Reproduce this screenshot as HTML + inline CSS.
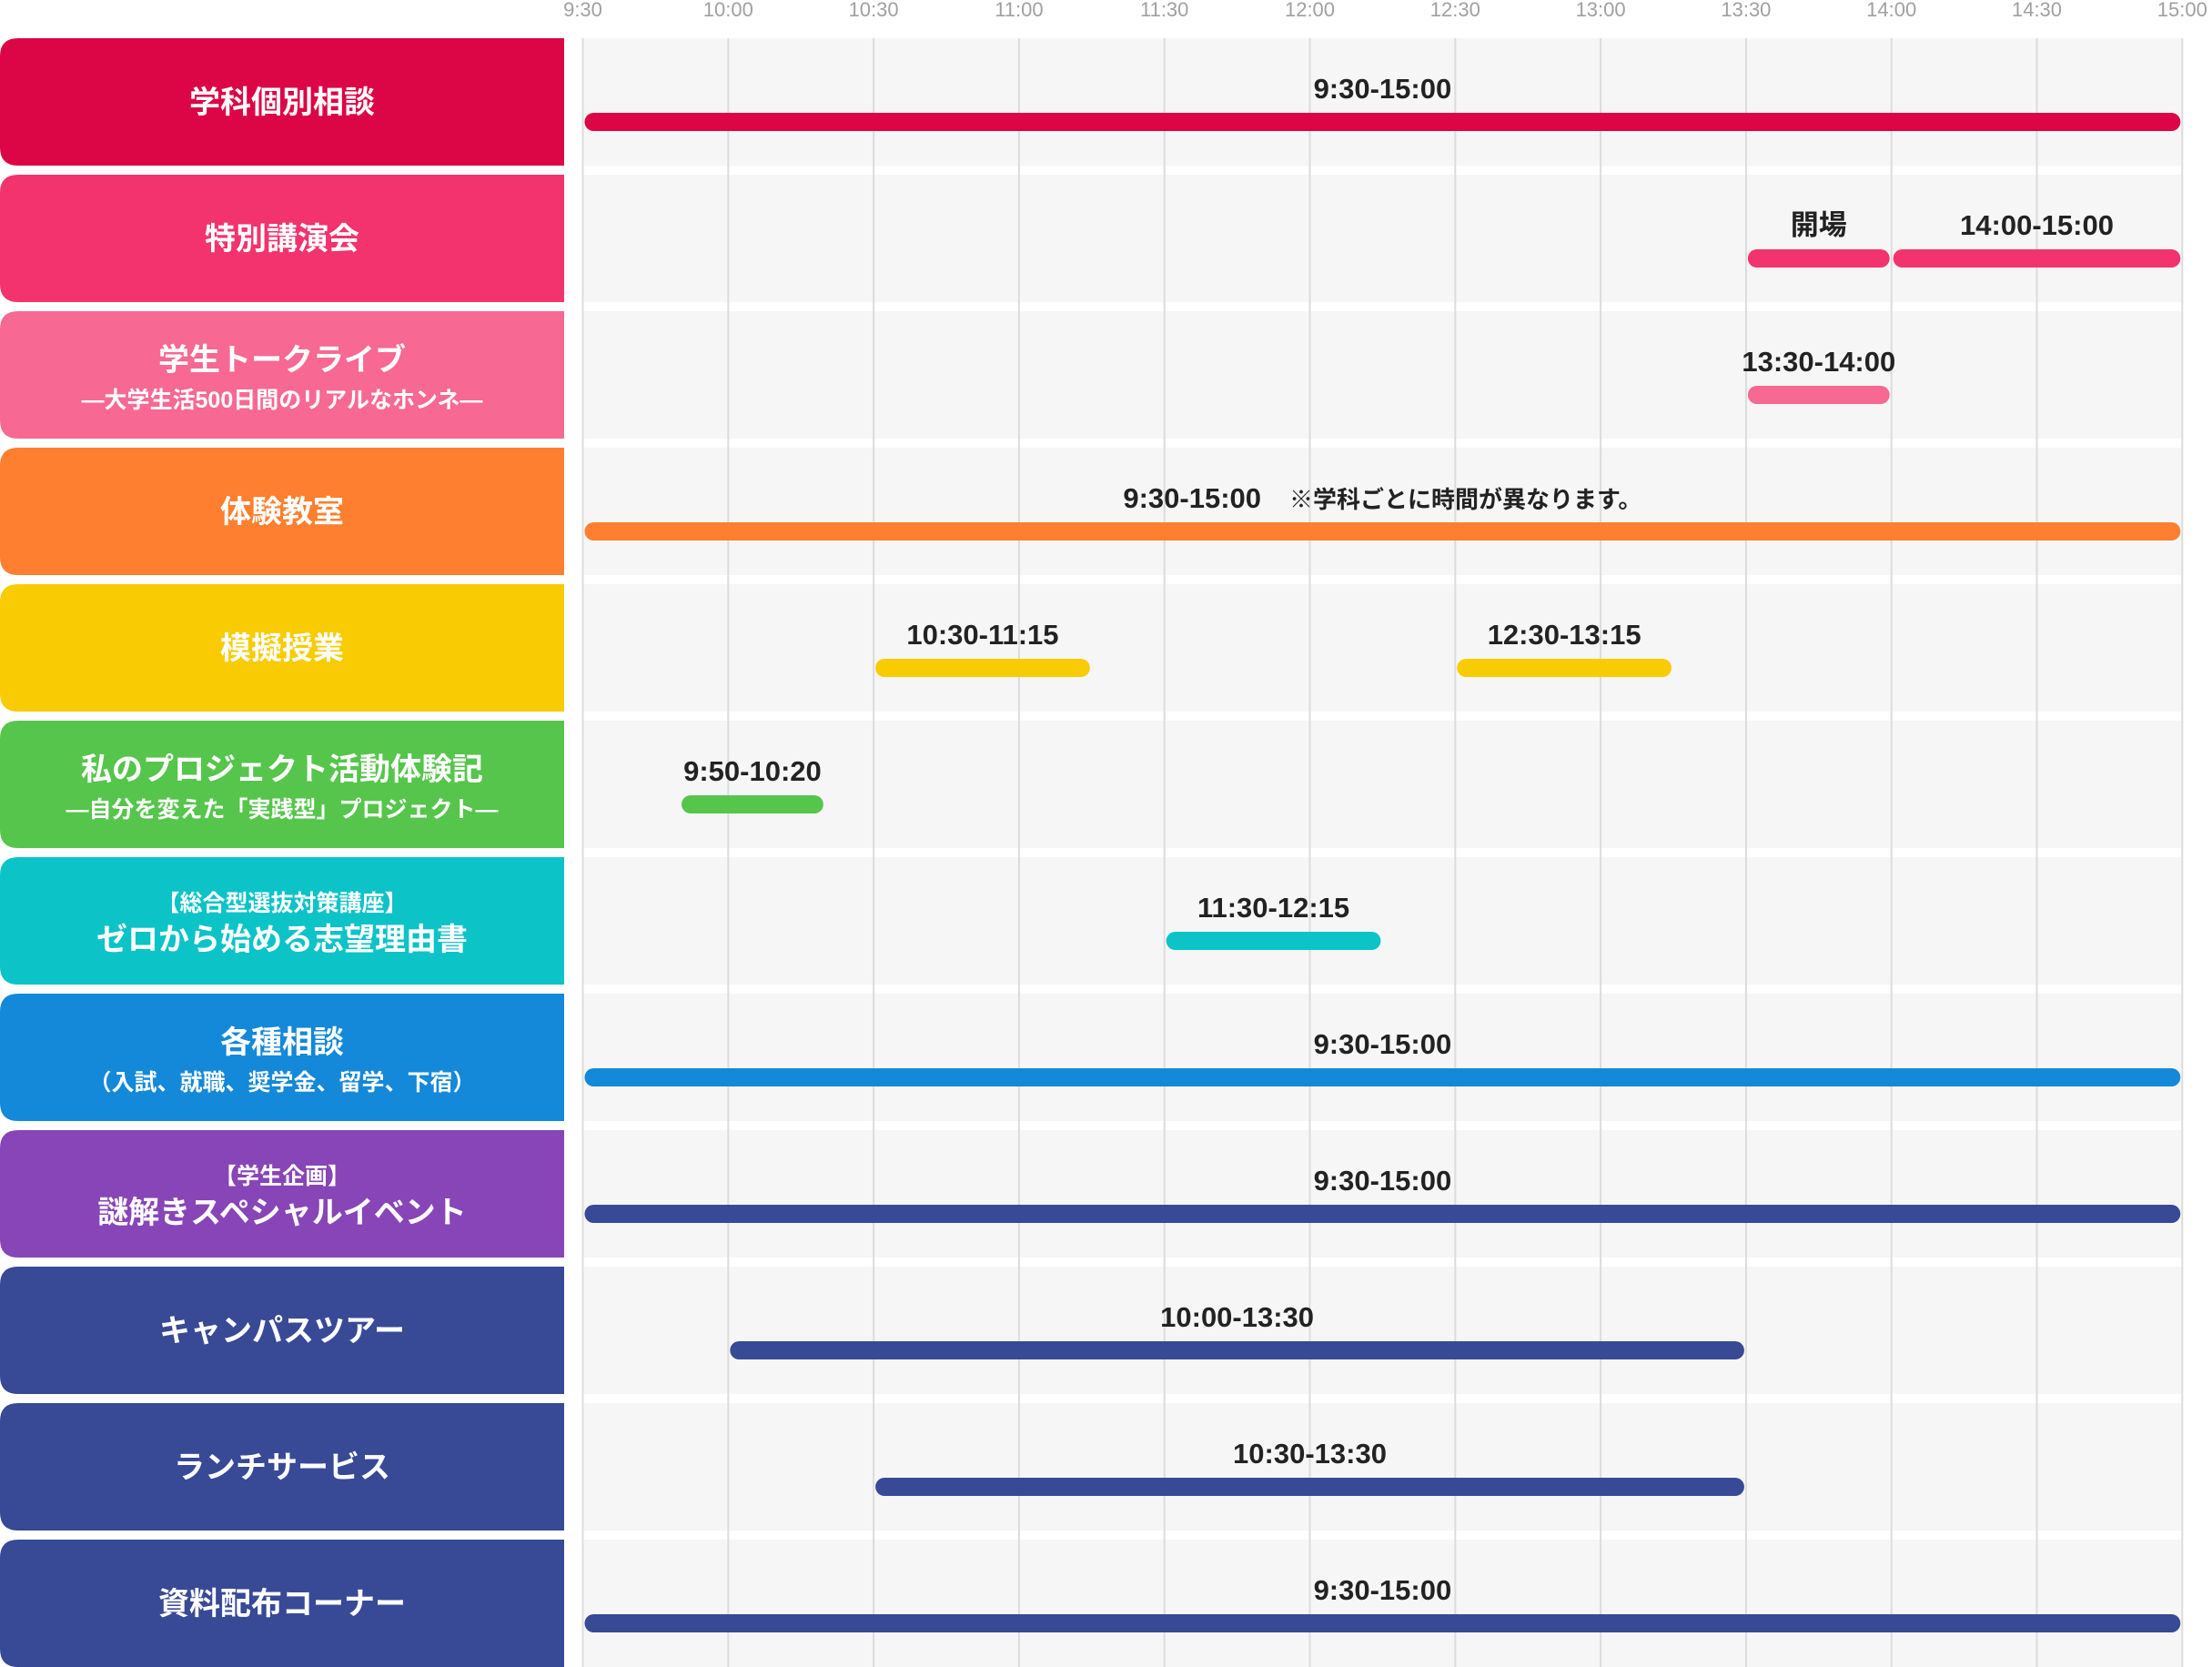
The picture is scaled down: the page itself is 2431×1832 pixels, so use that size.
<!DOCTYPE html>
<html><head><meta charset="utf-8">
<style>
html,body{margin:0;padding:0;background:#fff;}
svg{display:block;}
text{font-family:"Liberation Sans","Noto Sans CJK JP",sans-serif;}
</style></head>
<body>
<svg id="chart" width="2431" height="1832" viewBox="0 0 2431 1832" xmlns="http://www.w3.org/2000/svg"></svg>
<script>
const tickLabels = ["9:30","10:00","10:30","11:00","11:30","12:00","12:30","13:00","13:30","14:00","14:30","15:00"];
const rowTitles = ["学科個別相談","特別講演会","学生トークライブ","体験教室","模擬授業","私のプロジェクト活動体験記","ゼロから始める志望理由書","各種相談","謎解きスペシャルイベント","キャンパスツアー","ランチサービス","資料配布コーナー"];
const rowSubs = ["","","―大学生活500日間のリアルなホンネ―","","","―自分を変えた「実践型」プロジェクト―","","（入試、就職、奨学金、留学、下宿）","","","",""];
const rowPre = ["","","","","","","【総合型選抜対策講座】","","【学生企画】","","",""];
const rowColors = ["#dc0545","#f3336e","#f76893","#fe7f2f","#f8cb02","#56c54c","#0cc3c8","#1488d9","#8845b7","#384996","#384996","#384996"];
const barColors = ["#dc0545","#f3336e","#f76893","#fe7f2f","#f8cb02","#56c54c","#0cc3c8","#1488d9","#384996","#384996","#384996","#384996"];
// bars: [row, startMin, endMin, label]
const barRows   = [0,1,1,2,3,4,4,5,6,7,8,9,10,11];
const barStarts = ["9:30","13:30","14:00","13:30","9:30","10:30","12:30","9:50","11:30","9:30","9:30","10:00","10:30","9:30"];
const barEnds   = ["15:00","14:00","15:00","14:00","15:00","11:15","13:15","10:20","12:15","15:00","15:00","13:30","13:30","15:00"];
const barLabels = ["9:30-15:00","開場","14:00-15:00","13:30-14:00","9:30-15:00　※学科ごとに時間が異なります。","10:30-11:15","12:30-13:15","9:50-10:20","11:30-12:15","9:30-15:00","9:30-15:00","10:00-13:30","10:30-13:30","9:30-15:00"];

const svg = document.getElementById('chart');
const NS = "http://www.w3.org/2000/svg";
const X0 = 640.5, PX30 = 159.8, ROW0 = 42, PITCH = 150, RH = 140;
function mins(t){const p=t.split(':');return (+p[0])*60+(+p[1]);}
function xScale(t){return X0 + (mins(t)-570)/30*PX30;}
function yRow(i){return ROW0 + i*PITCH;}
function el(tag, attrs){const e=document.createElementNS(NS,tag);for(const k in attrs)e.setAttribute(k,attrs[k]);svg.appendChild(e);return e;}

// row backgrounds
rowTitles.forEach((t,i)=>{
  const bg = el('rect',{x:X0,y:yRow(i),width:xScale("15:00")-X0,height:RH,fill:'#f6f6f6'});
  
  
});
// gridlines + ticks
tickLabels.forEach((t,i)=>{
  const x = xScale(t);
  const g = el('line',{x1:x,x2:x,y1:ROW0,y2:1832,stroke:'#dcdcdc','stroke-width':2});
  
  
  const tx = el('text',{x:x,y:18,'text-anchor':'middle','font-size':22,fill:'#a0a0a0'});
  tx.textContent = t;
  
  
});
// row labels
rowTitles.forEach((t,i)=>{
  const y = yRow(i);
  const r = el('path',{d:`M620 ${y} H20 Q0 ${y} 0 ${y+20} V${y+RH-20} Q0 ${y+RH} 20 ${y+RH} H620 Z`,fill:rowColors[i]});
  
  
  const cx = 310;
  let mainY = y+RH/2+12;
  if (rowSubs[i]) mainY = y+65;
  if (rowPre[i]) mainY = y+102;
  if (rowPre[i]) {
    const p = el('text',{x:cx,y:y+59,'text-anchor':'middle','font-size':25,'font-weight':'bold',fill:'#fff'});
    p.textContent = rowPre[i];
    
    
  }
  const m = el('text',{x:cx,y:mainY,'text-anchor':'middle','font-size':34,'font-weight':'bold',fill:'#fff'});
  m.textContent = t;
  
  
  if (rowSubs[i]) {
    const s = el('text',{x:cx,y:y+106,'text-anchor':'middle','font-size':25,'font-weight':'bold',fill:'#fff'});
    s.textContent = rowSubs[i];
    
    
  }
});
// bars
barRows.forEach((r,i)=>{
  const x1 = xScale(barStarts[i])+2, x2 = xScale(barEnds[i])-2;
  const y = yRow(r)+82;
  const b = el('rect',{x:x1,y:y,width:x2-x1,height:20,rx:10,ry:10,fill:barColors[r]});
  
  
  const l = el('text',{x:(x1+x2)/2,y:yRow(r)+66,'text-anchor':'middle','font-size':31,'font-weight':'bold',fill:'#222'});
  const parts = barLabels[i].split('　');
  if (parts.length>1){
    const a=document.createElementNS(NS,'tspan');a.textContent=parts[0]+'　';l.appendChild(a);
    const b2=document.createElementNS(NS,'tspan');b2.setAttribute('font-size','26');b2.textContent=parts[1];l.appendChild(b2);
  } else l.textContent = barLabels[i];
  
  
});
</script>
</body></html>
